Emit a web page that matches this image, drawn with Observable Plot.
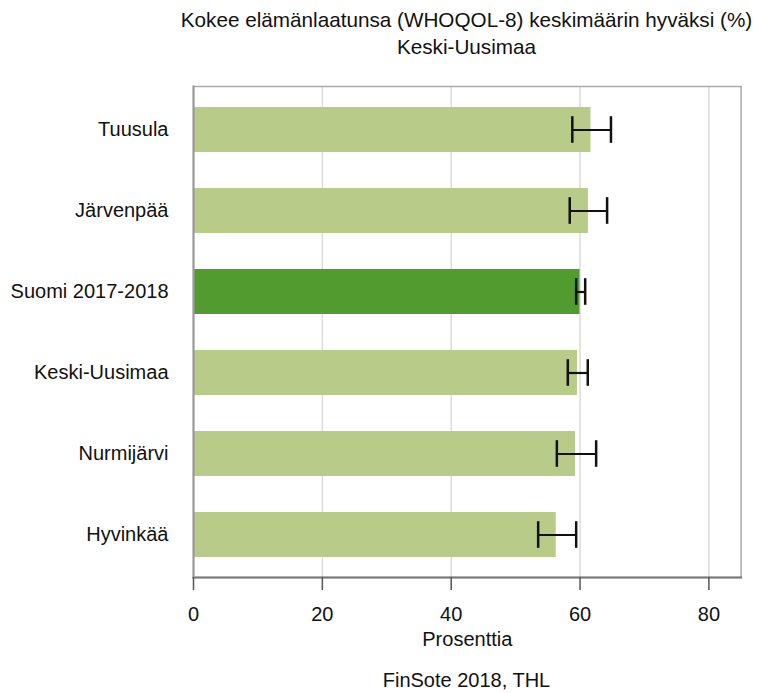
<!DOCTYPE html>
<html>
<head>
<meta charset="utf-8">
<script src="https://cdn.jsdelivr.net/npm/d3@7"></script>
<script src="https://cdn.jsdelivr.net/npm/@observablehq/plot@0.6"></script>
<style>
  html, body { margin: 0; padding: 0; background: white; }
  body { width: 758px; height: 693px; overflow: hidden; font-family: "Liberation Sans", Arial, sans-serif; color: #111; }
  .title { margin-left: 165px; width: 603px; box-sizing: border-box; padding-top: 7px; height: 60px; font-size: 20.7px; line-height: 26.5px; text-align: center; white-space: nowrap; }
  .caption { margin-left: 175px; width: 583px; font-size: 20px; line-height: 24px; text-align: center; }
  #chart svg { display: block; }
</style>
</head>
<body>
<div class="title">Kokee elämänlaatunsa (WHOQOL-8) keskimäärin hyväksi (%)<br>Keski-Uusimaa</div>
<div id="chart"></div>
<div class="caption">FinSote 2018, THL</div>
<script>
const categories = ["Tuusula", "Järvenpää", "Suomi 2017-2018", "Keski-Uusimaa", "Nurmijärvi", "Hyvinkää"];
const values = [61.7, 61.3, 60.0, 59.6, 59.3, 56.3];
const lower = [58.8, 58.4, 59.4, 58.1, 56.4, 53.5];
const upper = [64.8, 64.2, 60.8, 61.2, 62.5, 59.4];
const highlight = "Suomi 2017-2018";
const xTicks = [0, 20, 40, 60, 80];
const xLabel = "Prosenttia";

const data = categories.map((c, i) => ({c, v: values[i], lo: lower[i], hi: upper[i]}));

const chart = Plot.plot({
  width: 758,
  height: 608,
  marginTop: 26,
  marginBottom: 91,
  marginLeft: 193,
  marginRight: 17.4,
  style: {fontFamily: "'Liberation Sans', Arial, sans-serif", fontSize: "20px", color: "#111", background: "white", overflow: "visible"},
  x: {domain: [0, 85], ticks: xTicks, label: null},
  y: {domain: categories, paddingInner: 0.45, paddingOuter: 0.225, label: null},
  marks: [
    Plot.gridX(xTicks.slice(1), {stroke: "#dcdcdc", strokeOpacity: 1, strokeWidth: 1.5}),
    Plot.barX(data, {y: "c", x: "v", fill: d => d.c === highlight ? "#529B2F" : "#B8CB88"}),
    Plot.ruleY(data, {y: "c", x1: "lo", x2: "hi", stroke: "#111", strokeWidth: 2.2}),
    Plot.tickX(data, {y: "c", x: "lo", stroke: "#111", strokeWidth: 2.5, insetTop: 35.8, insetBottom: 35.8}),
    Plot.tickX(data, {y: "c", x: "hi", stroke: "#111", strokeWidth: 2.5, insetTop: 35.8, insetBottom: 35.8}),
    Plot.frame({stroke: "#aaa", strokeWidth: 1.5}),
    Plot.frame({anchor: "bottom", stroke: "#777", strokeWidth: 2}),
    Plot.frame({anchor: "left", stroke: "#999", strokeWidth: 2}),
    Plot.axisX({ticks: xTicks, tickSize: 13, tickPadding: 16, stroke: "#555", strokeWidth: 1.5, label: null}),
    Plot.axisY({tickSize: 0, tickPadding: 25, label: null}),
    Plot.text([xLabel], {text: d => d, frameAnchor: "bottom", dy: 68, fill: "#111"})
  ]
});
document.getElementById("chart").appendChild(chart);
</script>
</body>
</html>
